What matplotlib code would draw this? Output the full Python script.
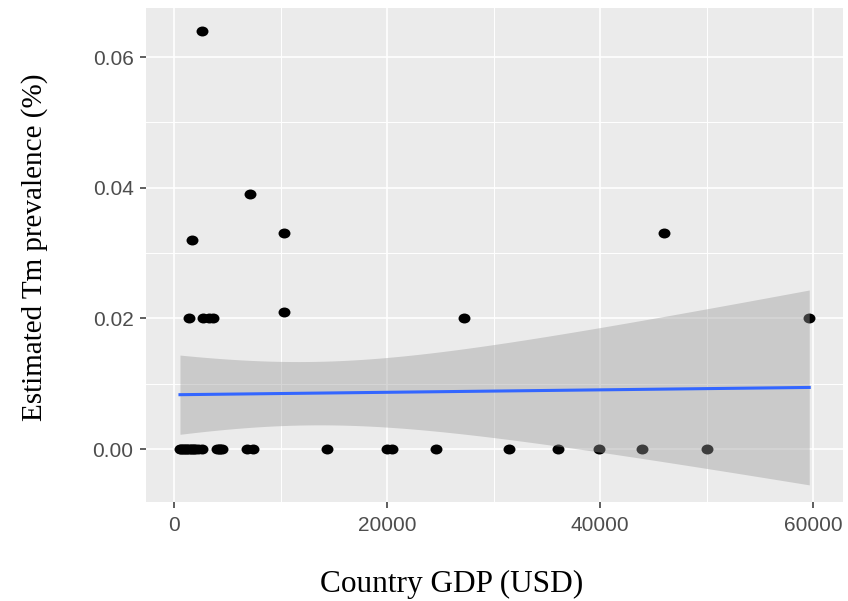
import numpy as np
import matplotlib
matplotlib.use("Agg")
import matplotlib.pyplot as plt
from matplotlib.path import Path
from matplotlib.transforms import Affine2D
from matplotlib.ticker import MultipleLocator

# --- data (GDP in USD, prevalence in %) ---
gdp_nonzero = [2620, 7100, 1680, 10280, 10280, 1400, 2710, 3270, 3640, 27200, 45980, 59630]
prev_nonzero = [0.064, 0.039, 0.032, 0.033, 0.021, 0.020, 0.020, 0.020, 0.020, 0.020, 0.033, 0.020]

gdp_zero = [560, 700, 840, 980, 1120, 1260, 1400, 1550, 1700, 1850, 2000, 2250, 2620,
            4020, 4200, 4350, 4490, 6820, 7380,
            14390, 20000, 20470, 24580, 31400, 36070, 39910, 43930, 50000]
prev_zero = [0.0] * len(gdp_zero)

x_ticks = [0, 20000, 40000, 60000]
y_ticks = [0.00, 0.02, 0.04, 0.06]
y_tick_labels = ["0.00", "0.02", "0.04", "0.06"]

T_95 = 2.024  # t quantile, df = n - 2 = 38

gdp = np.array(gdp_nonzero + gdp_zero, dtype=float)
prev = np.array(prev_nonzero + prev_zero, dtype=float)

# linear fit with 95% confidence band (like geom_smooth(method = "lm"))
n = len(gdp)
x_mean = gdp.mean()
sxx = np.sum((gdp - x_mean) ** 2)
slope = np.sum((gdp - x_mean) * (prev - prev.mean())) / sxx
intercept = prev.mean() - slope * x_mean
resid = prev - (intercept + slope * gdp)
s = np.sqrt(np.sum(resid ** 2) / (n - 2))
grid_x = np.linspace(gdp.min(), gdp.max(), 80)
fit = intercept + slope * grid_x
se = s * np.sqrt(1.0 / n + (grid_x - x_mean) ** 2 / sxx)

fig = plt.figure(figsize=(8.48, 6.01), dpi=100)
ax = fig.add_axes([146 / 848, 1 - 502 / 601, 697 / 848, 494 / 601])
ax.set_facecolor("#EBEBEB")
for sp in ax.spines.values():
    sp.set_visible(False)

ax.set_xlim(-2630, 62800)
ax.set_ylim(-0.0081, 0.0675)
ax.set_xticks(x_ticks)
ax.set_xticklabels([str(t) for t in x_ticks])
ax.set_yticks(y_ticks)
ax.set_yticklabels(y_tick_labels)
ax.xaxis.set_minor_locator(MultipleLocator(10000))
ax.yaxis.set_minor_locator(MultipleLocator(0.01))
ax.grid(which="major", color="white", lw=1.2)
ax.grid(which="minor", color="white", lw=0.7)
ax.set_axisbelow(True)
ax.tick_params(which="minor", length=0)
ax.tick_params(which="major", length=4, width=1.1, color="#333333",
               labelcolor="#4D4D4D", labelsize=15)
ax.tick_params(axis="x", pad=6)
ax.tick_params(axis="y", pad=5)
for lab in ax.get_xticklabels() + ax.get_yticklabels():
    lab.set_family("Liberation Sans")

# slightly wide dots, as in the reference
dot = Path.unit_circle().transformed(Affine2D().scale(1.2, 1.0))
ax.plot(gdp, prev, linestyle="none", marker=dot, ms=8.6, color="black", mew=0, zorder=2)

ax.fill_between(grid_x, fit - T_95 * se, fit + T_95 * se, color="#999999", alpha=0.4, lw=0, zorder=3)
ax.plot(grid_x, fit, color="#3366FF", lw=2.2, zorder=4)

ax.set_xlabel("Country GDP (USD)", fontsize=22.5, family="Liberation Serif", va="baseline")
ax.xaxis.set_label_coords(0.439, -0.182)
ax.set_ylabel("Estimated Tm prevalence (%)", fontsize=21, family="Liberation Serif", va="baseline")
ax.yaxis.set_label_coords(-0.149, 0.516)

fig.savefig("out.png", dpi=100)
